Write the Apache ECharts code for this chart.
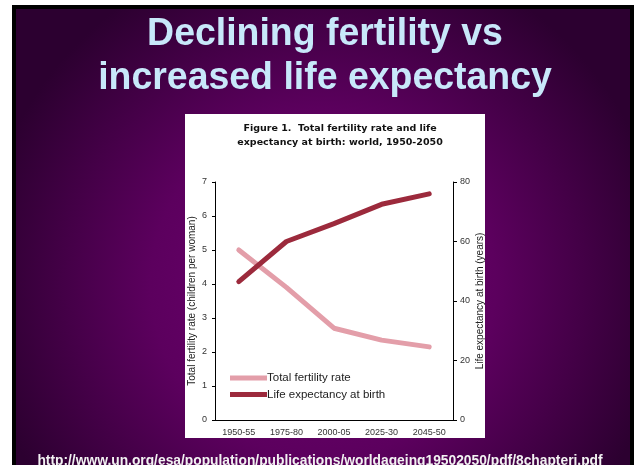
<!DOCTYPE html>
<html>
<head>
<meta charset="utf-8">
<script src="https://cdn.jsdelivr.net/npm/echarts@6/dist/echarts.min.js"></script>
<style>
  html, body { margin: 0; padding: 0; background: #fff; }
  #chart { width: 634px; height: 465px; }
</style>
</head>
<body>
<div id="chart"></div>
<script>
// data
var periods = ['1950-55', '1975-80', '2000-05', '2025-30', '2045-50'];
var fertility = [5.0, 3.9, 2.7, 2.35, 2.15];
var lifeExp = [46.5, 60, 66, 72.5, 76];

var slideTitle = ['Declining fertility vs', 'increased life expectancy'];
var figTitle = 'Figure 1.  Total fertility rate and life\nexpectancy at birth: world, 1950-2050';
var sourceUrl = 'http://www.un.org/esa/population/publications/worldageing19502050/pdf/8chapteri.pdf';

var chart = echarts.init(document.getElementById('chart'));

var titleFont = 'bold 39px "Liberation Sans", Arial, sans-serif';

var option = {
  backgroundColor: '#ffffff',
  animation: false,
  graphic: [
    // black frame + purple slide
    { type: 'rect', z: -10, shape: { x: 12, y: 5, width: 630, height: 470 }, style: { fill: '#000' } },
    {
      type: 'rect', z: -9,
      shape: { x: 16, y: 9, width: 614, height: 460 },
      style: {
        fill: new echarts.graphic.RadialGradient(0.5, 0.6, 0.75, [
          { offset: 0, color: '#700072' },
          { offset: 0.5, color: '#5c005e' },
          { offset: 1, color: '#2c0030' }
        ])
      }
    },
    // white figure panel
    { type: 'rect', z: -8, shape: { x: 185, y: 114, width: 300, height: 324 }, style: { fill: '#fff' } },
    {
      type: 'text', x: 325, y: 34, scaleX: 0.96,
      style: { text: slideTitle[0], font: titleFont, fill: '#c8e8fa', align: 'center', verticalAlign: 'middle' }
    },
    {
      type: 'text', x: 325, y: 78, scaleX: 0.96,
      style: { text: slideTitle[1], font: titleFont, fill: '#c8e8fa', align: 'center', verticalAlign: 'middle' }
    },
    {
      type: 'text', x: 320, y: 461,
      style: {
        text: sourceUrl, font: 'bold 13.8px "Liberation Sans", Arial, sans-serif',
        fill: '#f2f2f2', align: 'center', verticalAlign: 'middle'
      }
    }
  ],
  title: {
    text: figTitle,
    left: 335,
    textAlign: 'center',
    top: 117,
    textStyle: {
      fontFamily: 'DejaVu Sans',
      fontWeight: 'bold',
      fontSize: 9.5,
      lineHeight: 14,
      color: '#111'
    }
  },
  legend: {
    orient: 'vertical',
    left: 230,
    top: 372,
    padding: 0,
    itemWidth: 37,
    itemHeight: 5,
    itemGap: 4.5,
    icon: 'rect',
    textStyle: {
      fontFamily: 'Liberation Sans',
      fontSize: 11.5,
      color: '#222',
      padding: [0, 0, 0, -5]
    },
    data: ['Total fertility rate', 'Life expectancy at birth']
  },
  grid: { left: 215, right: 181, top: 182, bottom: 45 },
  xAxis: {
    type: 'category',
    data: periods,
    boundaryGap: true,
    axisLine: { lineStyle: { color: '#000', width: 1 } },
    axisTick: { show: false },
    axisLabel: { fontFamily: 'Liberation Sans', fontSize: 9, color: '#333', margin: 8 }
  },
  yAxis: [
    {
      type: 'value',
      min: 0, max: 7, interval: 1,
      name: 'Total fertility rate (children per woman)',
      nameLocation: 'middle',
      nameGap: 18,
      nameTextStyle: { fontFamily: 'Liberation Sans', fontSize: 10, color: '#222' },
      axisLine: { show: true, lineStyle: { color: '#000', width: 1 } },
      axisTick: { show: true, length: 3, lineStyle: { color: '#000' } },
      axisLabel: { fontFamily: 'Liberation Sans', fontSize: 9, color: '#333', margin: 8 },
      splitLine: { show: false }
    },
    {
      type: 'value',
      min: 0, max: 80, interval: 20,
      name: 'Life expectancy at birth (years)',
      nameLocation: 'middle',
      nameGap: 22,
      nameTextStyle: { fontFamily: 'Liberation Sans', fontSize: 10, color: '#222' },
      axisLine: { show: true, lineStyle: { color: '#000', width: 1 } },
      axisTick: { show: true, length: 4, lineStyle: { color: '#000' } },
      axisLabel: { fontFamily: 'Liberation Sans', fontSize: 9, color: '#333', margin: 7 },
      splitLine: { show: false }
    }
  ],
  series: [
    {
      name: 'Total fertility rate',
      type: 'line',
      yAxisIndex: 0,
      data: fertility,
      symbol: 'none',
      color: '#e39ea9',
      lineStyle: { width: 5, cap: 'round', join: 'round' }
    },
    {
      name: 'Life expectancy at birth',
      type: 'line',
      yAxisIndex: 1,
      data: lifeExp,
      symbol: 'none',
      color: '#9c2a3c',
      lineStyle: { width: 5, cap: 'round', join: 'round' }
    }
  ]
};

chart.setOption(option);
</script>
</body>
</html>
